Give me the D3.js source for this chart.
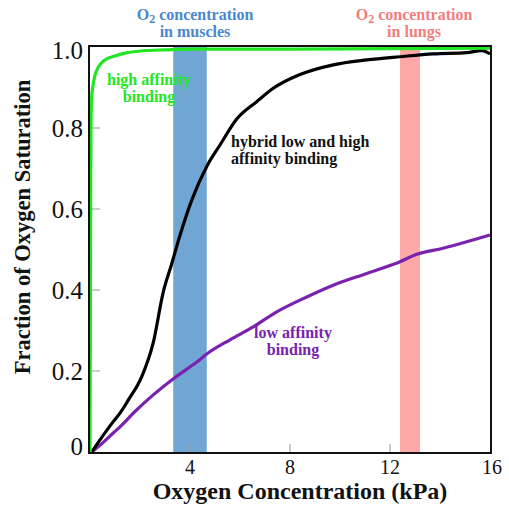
<!DOCTYPE html>
<html><head><meta charset="utf-8">
<script src="https://cdn.jsdelivr.net/npm/d3@7"></script>
<style>
html,body{margin:0;padding:0;background:#fff;}
text{font-family:"Liberation Serif","Times New Roman",serif;}
</style>
</head><body>
<svg id="c" width="509" height="508"></svg>
<script>
// ---- data ----
const highAffinity = [[0,0],[0.02,0.45],[0.04,0.8],[0.06,0.87],[0.12,0.905],[0.2,0.93],[0.35,0.952],[0.6,0.968],[1,0.978],[1.5,0.986],[2.2,0.991],[3,0.993],[4,0.995],[8,0.995],[12,0.996],[16,0.997]];
const hybrid = [[0.07,0],[0.4,0.03],[0.93,0.075],[1.2,0.096],[1.53,0.128],[2.07,0.186],[2.53,0.27],[2.93,0.395],[3.27,0.465],[3.6,0.535],[4.07,0.622],[4.67,0.705],[5.2,0.758],[5.87,0.822],[6.67,0.865],[7.33,0.898],[8.4,0.932],[9.73,0.956],[11.07,0.968],[12.4,0.976],[13.73,0.983],[15.07,0.986],[15.67,0.991],[16,0.983]];
const lowAffinity = [[0.07,0],[0.5,0.022],[0.93,0.047],[1.2,0.062],[1.8,0.1],[2.53,0.141],[3.4,0.184],[4.27,0.222],[4.67,0.242],[5.6,0.277],[6.53,0.309],[7.47,0.346],[8.4,0.375],[9.73,0.412],[11.07,0.441],[12.4,0.47],[13.07,0.488],[14.13,0.503],[15.07,0.519],[16,0.536]];
const muscleBand = [3.33, 4.67];
const lungBand = [12.4, 13.2];
const xTicks = [4, 8, 12];
const xTickLabels = ["4", "8", "12", "16"];
const xLabelValues = [4, 8, 12, 16];
const yTicks = [0.2, 0.4, 0.6, 0.8];
const yLabelValues = [0, 0.2, 0.4, 0.6, 0.8, 1.0];
const yTickLabels = ["0", "0.2", "0.4", "0.6", "0.8", "1.0"];
const xTitle = "Oxygen Concentration (kPa)";
const yTitle = "Fraction of Oxygen Saturation";

// ---- layout ----
const svg = d3.select("#c");
const L = 89, R = 491, T = 46, B = 453;
const x = d3.scaleLinear().domain([0, 16]).range([90, 490]);
const y = d3.scaleLinear().domain([0, 1]).range([452, 47]);

// bands
svg.append("rect").attr("x", x(muscleBand[0])).attr("y", T).attr("width", x(muscleBand[1]) - x(muscleBand[0])).attr("height", B - T).attr("fill", "#6fa6d4");
svg.append("rect").attr("x", x(lungBand[0])).attr("y", T).attr("width", x(lungBand[1]) - x(lungBand[0])).attr("height", B - T).attr("fill", "#ffa8a8");

// ticks
svg.selectAll(".xt").data(xTicks).enter().append("line")
  .attr("x1", d => x(d)).attr("x2", d => x(d)).attr("y1", B).attr("y2", B - 9)
  .attr("stroke", "#999").attr("stroke-width", 1);
svg.selectAll(".yt").data(yTicks).enter().append("line")
  .attr("y1", d => y(d)).attr("y2", d => y(d)).attr("x1", L).attr("x2", L + 11)
  .attr("stroke", "#999").attr("stroke-width", 1);

// curves
const line = d3.line().x(d => x(d[0])).y(d => y(d[1])).curve(d3.curveMonotoneX);
function curve(data, color) {
  svg.append("path").datum(data).attr("d", line).attr("fill", "none")
    .attr("stroke", color).attr("stroke-width", 3.2).attr("stroke-linejoin", "round");
}
curve(lowAffinity, "#7a22b0");
curve(hybrid, "#000");
curve(highAffinity, "#22e622");

// frame
svg.append("rect").attr("x", L).attr("y", T).attr("width", R - L).attr("height", B - T)
  .attr("fill", "none").attr("stroke", "#111").attr("stroke-width", 2);

// tick labels
svg.selectAll(".xl").data(xLabelValues).enter().append("text")
  .attr("x", d => x(d) + (d === 16 ? 2 : 0)).attr("y", 474).attr("text-anchor", "middle")
  .attr("font-size", 20).attr("fill", "#111").text((d, i) => xTickLabels[i]);
svg.selectAll(".yl").data(yLabelValues).enter().append("text")
  .attr("x", 83).attr("y", d => Math.max(50, Math.min(446, y(d)))).attr("dy", "0.35em")
  .attr("text-anchor", "end").attr("font-size", 25).attr("fill", "#111")
  .text((d, i) => yTickLabels[i]);

// axis titles
svg.append("text").attr("x", 300).attr("y", 499).attr("text-anchor", "middle")
  .attr("font-size", 24).attr("font-weight", "bold").attr("fill", "#111").text(xTitle);
svg.append("text").attr("transform", "translate(30,227) rotate(-90)").attr("text-anchor", "middle")
  .attr("font-size", 22.5).attr("font-weight", "bold").attr("fill", "#111").text(yTitle);

// annotations
function label(lines, cx, y0, color, anchor) {
  const t = svg.append("text").attr("text-anchor", anchor).attr("font-size", 16)
    .attr("font-weight", "bold").attr("fill", color);
  lines.forEach((s, i) => t.append("tspan").attr("x", cx).attr("y", y0 + i * 16.7).text(s));
}
label(["high affinity", "binding"], 149, 85, "#22e622", "middle");
label(["hybrid low and high", "affinity binding"], 231, 147, "#111", "start");
label(["low affinity", "binding"], 293, 338, "#7a22b0", "middle");

function o2label(cx, color, second) {
  const t = svg.append("text").attr("text-anchor", "middle").attr("font-size", 16)
    .attr("font-weight", "bold").attr("fill", color);
  const t1 = t.append("tspan").attr("x", cx).attr("y", 20);
  t1.append("tspan").text("O");
  t1.append("tspan").attr("font-size", 12).attr("dy", 3).text("2");
  t1.append("tspan").attr("dy", -3).text(" concentration");
  t.append("tspan").attr("x", cx).attr("y", 37).text(second);
}
o2label(195, "#4a87d0", "in muscles");
o2label(414, "#f27d7d", "in lungs");
</script>
</body></html>
